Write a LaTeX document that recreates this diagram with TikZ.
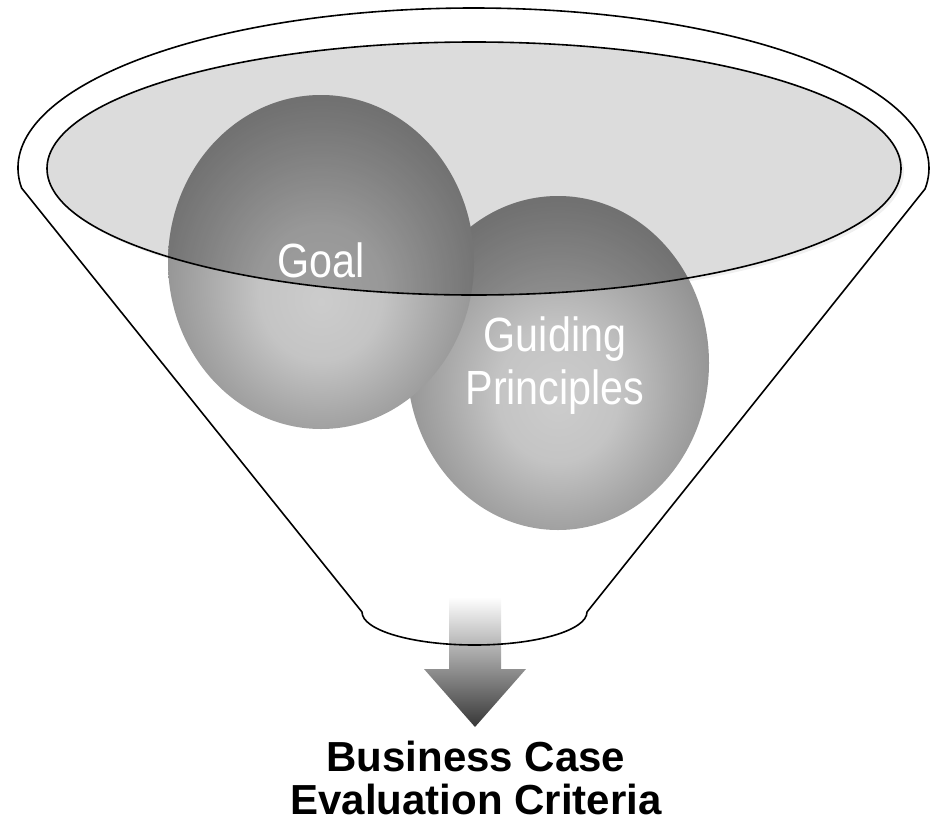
\documentclass[tikz,border=0pt]{standalone}
\usepackage{fontspec}
\setmainfont{Liberation Sans}
\usepackage{xcolor}
\usetikzlibrary{calc}

\definecolor{discgray}{RGB}{220,220,220}
\definecolor{arrowgray}{RGB}{55,55,55}
\definecolor{orbA}{RGB}{204,204,204}
\definecolor{orbB}{RGB}{196,196,196}
\definecolor{orbC}{RGB}{168,168,168}
\definecolor{orbD}{RGB}{148,148,148}
\definecolor{orbE}{RGB}{138,138,138}
\pgfdeclareradialshading{orbshade}{\pgfpoint{0bp}{-6bp}}{color(0bp)=(orbA); color(10bp)=(orbB); color(19bp)=(orbC); color(26bp)=(orbD); color(32bp)=(orbE); color(50bp)=(orbE)}

\tikzset{
  orb/.style={shading=orbshade},
  orblabel/.style={text=white, font=\fontsize{48}{53}\selectfont, align=center},
  rim/.style={line width=1.6pt, line join=round},
}

\begin{document}
\begin{tikzpicture}[x=1pt,y=-1pt]
   \useasboundingbox (0,0) rectangle (931,830);
   % arrow out of the funnel
   \shade[top color=white, bottom color=arrowgray] (449,597) -- (501,597) -- (501,669) -- (526,669)
      -- (475,727) -- (424,669) -- (449,669) -- cycle;
   % disc at the mouth
   \fill[gray!12] (477,171.5) ellipse (427 and 126.5);
   \fill[discgray] (474,168.5) ellipse (427 and 126.5);
   % the two spheres
   \shade[orb] (558,363) ellipse (151 and 167);
   \shade[orb] (321,262) ellipse (153 and 167);
   \begin{scope}
     \clip (474,168.5) ellipse (427 and 126.5);
     \fill[black,opacity=.22] (558,363) ellipse (151 and 167) (321,262) ellipse (153 and 167);
   \end{scope}
   \draw[rim] (474,168.5) ellipse (427 and 126.5);
   % funnel outline
   \draw[rim] (473.5,168) ++(172.8:455.5 and 160)
      arc[start angle=172.8, end angle=367.5, x radius=455.5, y radius=160]
      -- (587,612) arc[start angle=0, end angle=180, x radius=112.5, y radius=33] -- cycle;

   \node[orblabel] (goal) at (321,260) {\scalebox{0.86}[1]{Goal}};
   \node[orblabel] (principles) at (555,366) {\scalebox{0.86}[1]{Guiding}\\\scalebox{0.86}[1]{Principles}};
   \node[font=\bfseries\fontsize{42}{43}\selectfont, align=center] (criteria) at (476,778)
      {Business Case\\Evaluation Criteria};
\end{tikzpicture}
\end{document}
